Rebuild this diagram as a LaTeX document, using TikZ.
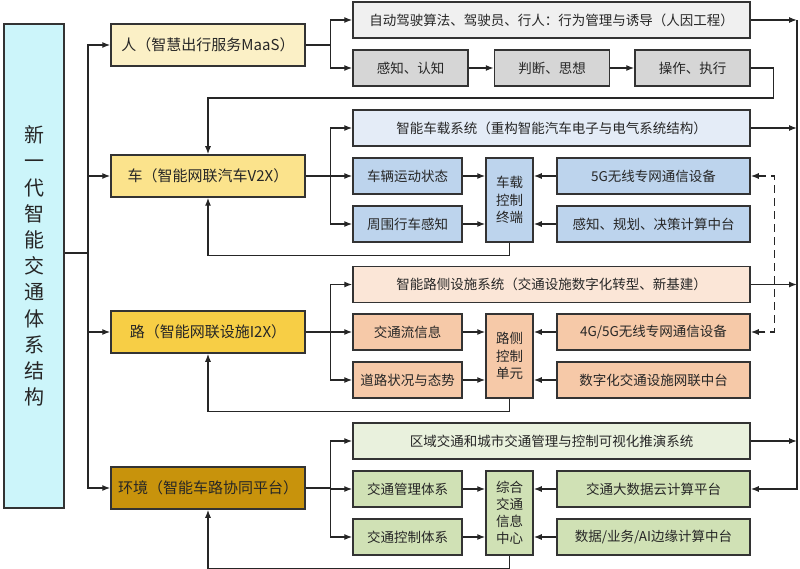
\documentclass[tikz,border=0pt]{standalone}
\usepackage{fontspec}
\setmainfont{Noto Sans CJK SC}
\usetikzlibrary{arrows.meta}
\definecolor{syscyan}{HTML}{CCF5FA}
\definecolor{renfill}{HTML}{FBF0C6}
\definecolor{chefill}{HTML}{FBE38C}
\definecolor{lufill}{HTML}{F7CE45}
\definecolor{envfill}{HTML}{C8930C}
\definecolor{graylt}{HTML}{F0F0F0}
\definecolor{graydk}{HTML}{D6D6D6}
\definecolor{bluelt}{HTML}{E4ECF7}
\definecolor{bluedk}{HTML}{BDD4ED}
\definecolor{peachlt}{HTML}{FBE6D7}
\definecolor{peachdk}{HTML}{F6C9A8}
\definecolor{greenlt}{HTML}{E9F1DD}
\definecolor{greendk}{HTML}{D0E1B5}
\tikzset{
  box/.style={draw=black!80, line width=1.5pt, inner sep=0pt, text=black!85,
    font=\fontsize{13.5}{17}\selectfont},
  mainbox/.style={box, minimum width=194pt, minimum height=42pt,
    font=\fontsize{15}{18}\selectfont},
  widebox/.style={box, minimum width=397pt, minimum height=36pt},
  leftbox/.style={box, minimum width=109pt, minimum height=36pt},
  rightbox/.style={box, minimum width=193pt, minimum height=36pt},
  stagebox/.style={box, minimum width=115pt, minimum height=36pt},
  midbox/.style={box, minimum width=47pt, minimum height=84pt, align=center,
    font=\fontsize{13.5}{17.5}\selectfont},
  line/.style={line width=1.3pt, black!85},
  arr/.style={line, -{Latex[length=8pt,width=6pt]}},
  twoarr/.style={line, {Latex[length=8pt,width=6pt]}-{Latex[length=8pt,width=6pt]}}
}
\begin{document}
\begin{tikzpicture}[x=1pt,y=-1pt]
\useasboundingbox (0,0) rectangle (800,569);
\node (sys) [box, fill=syscyan, minimum width=60pt, minimum height=484pt, align=center,
  font=\fontsize{20}{26.2}\selectfont] at (34,266)
  {新\\一\\代\\智\\能\\交\\通\\体\\系\\结\\构};
\node (ren) [mainbox, fill=renfill] at (208,45) {人（智慧出行服务MaaS）};
\node (che) [mainbox, fill=chefill] at (208,176) {车（智能网联汽车V2X）};
\node (lu) [mainbox, fill=lufill] at (208,332) {路（智能网联设施I2X）};
\node (env) [mainbox, fill=envfill] at (208,488) {环境（智能车路协同平台）};

\node (auto) [widebox, fill=graylt] at (551.5,20) {自动驾驶算法、驾驶员、行人：行为管理与诱导（人因工程）};
\node (s1) [stagebox, fill=graydk] at (410.5,68) {感知、认知};
\node (s2) [stagebox, fill=graydk] at (552,68) {判断、思想};
\node (s3) [stagebox, fill=graydk] at (692.5,68) {操作、执行};

\node (cw) [widebox, fill=bluelt] at (551.5,128) {智能车载系统（重构智能汽车电子与电气系统结构）};
\node (cm1) [leftbox, fill=bluedk] at (407.5,176) {车辆运动状态};
\node (cm2) [leftbox, fill=bluedk] at (407.5,224) {周围行车感知};
\node (cctrl) [midbox, fill=bluedk] at (509.5,200) {车载\\控制\\终端};
\node (cs1) [rightbox, fill=bluedk] at (653.5,176) {5G无线专网通信设备};
\node (cs2) [rightbox, fill=bluedk] at (653.5,224) {感知、规划、决策计算中台};

\node (lw) [widebox, fill=peachlt] at (551.5,284.5) {智能路侧设施系统（交通设施数字化转型、新基建）};
\node (lm1) [leftbox, fill=peachdk] at (407.5,332) {交通流信息};
\node (lm2) [leftbox, fill=peachdk] at (407.5,380) {道路状况与态势};
\node (lctrl) [midbox, fill=peachdk] at (509.5,356) {路侧\\控制\\单元};
\node (ls1) [rightbox, fill=peachdk] at (653.5,332) {4G/5G无线专网通信设备};
\node (ls2) [rightbox, fill=peachdk] at (653.5,380) {数字化交通设施网联中台};

\node (ew) [widebox, fill=greenlt] at (551.5,441) {区域交通和城市交通管理与控制可视化推演系统};
\node (em1) [leftbox, fill=greendk] at (407.5,489) {交通管理体系};
\node (em2) [leftbox, fill=greendk] at (407.5,537) {交通控制体系};
\node (ectrl) [midbox, fill=greendk, font=\fontsize{13.5}{17}\selectfont] at (509.5,513) {综合\\交通\\信息\\中心};
\node (es1) [rightbox, fill=greendk] at (653.5,489) {交通大数据云计算平台};
\node (es2) [rightbox, fill=greendk] at (653.5,537) {数据/业务/AI边缘计算中台};

\coordinate (trunk) at (88,253);
\coordinate (bus) at (797,20);
\draw [line] (sys.east |- trunk) -- (trunk);
\foreach \n in {ren,che,lu,env}
  \draw [arr] (trunk) |- (\n.west);

\draw [arr] (ren.east) -- ++(25,0) |- (auto.west);
\draw [arr] (ren.east) -- ++(25,0) |- (s1.west);
\draw [arr] (s1) -- (s2);
\draw [arr] (s2) -- (s3);
\draw [arr] (s3.east) -- ++(23,0) -- ++(0,30) -| (che.north);

\foreach \main/\w/\a/\b/\c/\p/\q in {che/cw/cm1/cm2/cctrl/cs1/cs2, lu/lw/lm1/lm2/lctrl/ls1/ls2, env/ew/em1/em2/ectrl/es1/es2} {
  \draw [arr] (\main.east) -- ++(25,0) |- (\w.west);
  \draw [arr] (\main.east) -- ++(25,0) |- (\a.west);
  \draw [arr] (\main.east) -- ++(25,0) |- (\b.west);
  \draw [arr] (\a) -- (\c.west |- \a);
  \draw [arr] (\b) -- (\c.west |- \b);
  \draw [arr] (\p) -- (\c.east |- \p);
  \draw [arr] (\q) -- (\c.east |- \q);
  \draw [arr] (\c.south) -- ++(0,13) -| (\main.south);
  \draw [arr] (\w.east) -- (\w.east -| bus);
}
\draw [arr] (auto.east) -- (bus);
\draw [arr] (bus) |- (es1.east);
\draw [twoarr, dash pattern=on 8pt off 5pt] (cs1.east) -- ++(24,0) |- (ls1.east);
\end{tikzpicture}
\end{document}
